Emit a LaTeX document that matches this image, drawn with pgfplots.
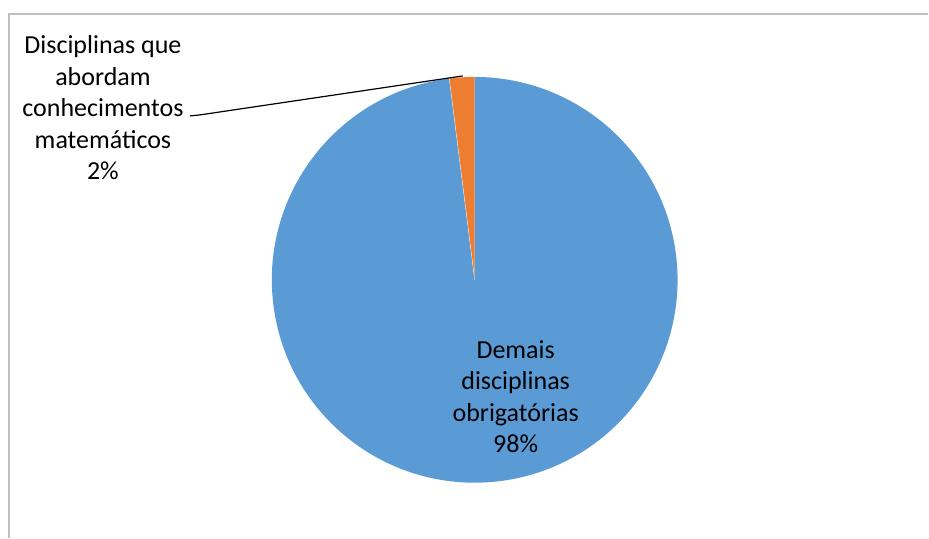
\documentclass[border=0pt]{standalone}
\usepackage{pgfplots}
\usepackage{pgfplotstable}
\pgfplotsset{compat=1.18}
\usepackage{fontspec}
\setmainfont{Carlito}
\definecolor{pieblue}{HTML}{5B9BD5}
\definecolor{pieorange}{HTML}{ED7D31}
\definecolor{framegray}{HTML}{BFBFBF}
\pgfplotstableread{
share
2
98
}\piedata
\begin{document}
\begin{tikzpicture}
\pgfplotstablegetelem{0}{share}\of\piedata
\pgfmathsetmacro{\sa}{\pgfplotsretval}
\pgfmathsetmacro{\angA}{90+3.6*\sa}
\begin{axis}[
  width=929pt, height=538pt, scale only axis,
  xmin=0, xmax=929, ymin=0, ymax=538,
  hide axis, clip=false,
]
\path (axis cs:0,0) rectangle (axis cs:929,538);
% frame
\draw[framegray, line width=1.2pt] (axis cs:9,0) -- (axis cs:9,524) -- (axis cs:929,524);
% slices (center 475,258; radius 203)
\fill[pieblue] (axis cs:475,258) -- ++(\angA:203pt) arc[start angle=\angA, end angle=450, radius=203pt] -- cycle;
\fill[pieorange] (axis cs:475,258) -- ++(90:203pt) arc[start angle=90, end angle=\angA, radius=203pt] -- cycle;
\draw[white, line width=0.3pt] (axis cs:475,258) -- ++(\angA:203pt);
% leader line
\draw[black, line width=1.2pt] (axis cs:190,422) -- (axis cs:200,423) -- (axis cs:463,462);
% labels
\node[align=center, font=\fontsize{26}{31.5}\selectfont, inner sep=0pt] at (axis cs:103,430) {Disciplinas que\\abordam\\conhecimentos\\matemáticos\\2\%};
\node[align=center, font=\fontsize{26}{31.5}\selectfont, inner sep=0pt] at (axis cs:516,141) {Demais\\disciplinas\\obrigatórias\\98\%};
\end{axis}
\end{tikzpicture}
\end{document}
